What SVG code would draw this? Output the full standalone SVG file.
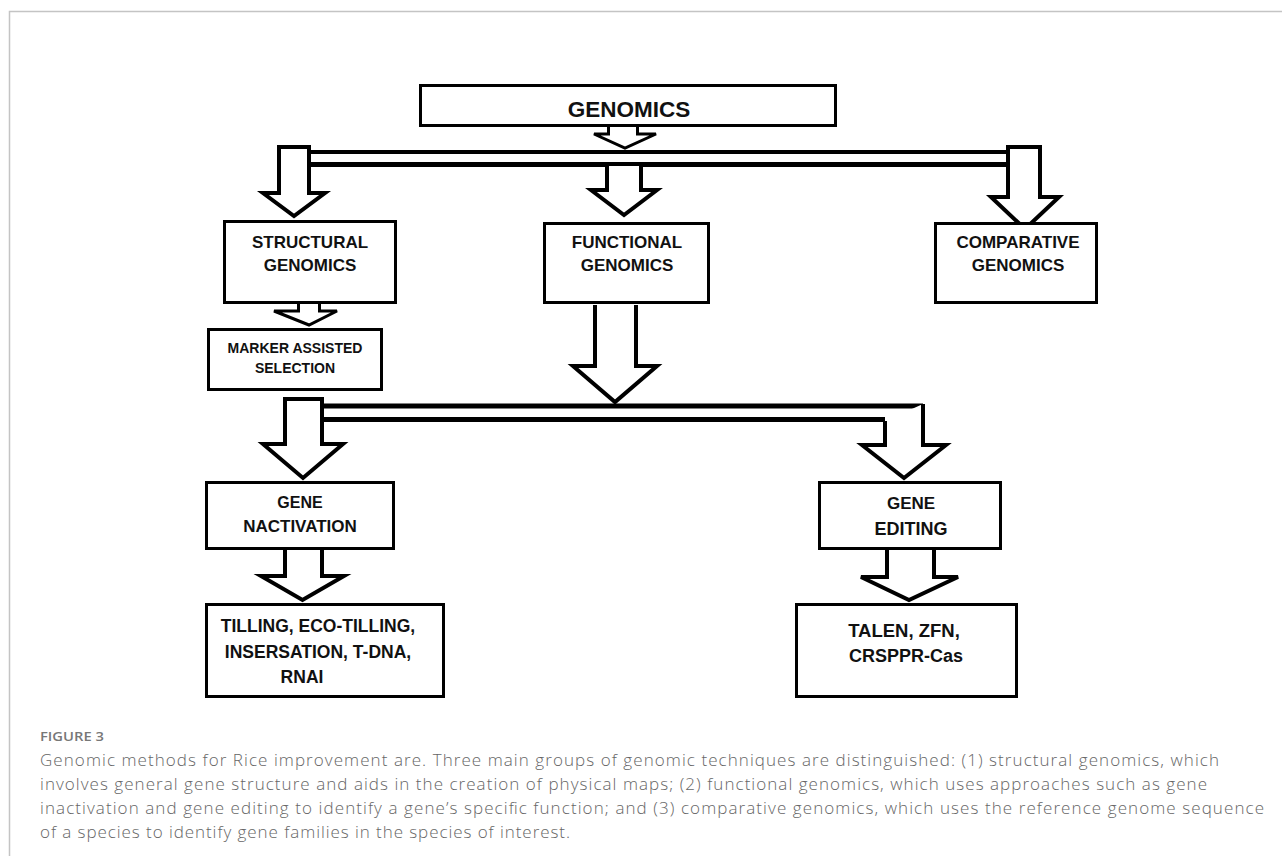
<svg xmlns="http://www.w3.org/2000/svg" width="1282" height="856" viewBox="0 0 1282 856">
<style>
.bx{fill:#fff;stroke:#000;stroke-width:3}
.ar{fill:#fff;stroke:#000;stroke-width:4;stroke-linejoin:miter}
.ar3{fill:#fff;stroke:#000;stroke-width:3;stroke-linejoin:miter}
.bar{stroke:#000;fill:none}
.t{font-family:"Liberation Sans",Arial,sans-serif;font-weight:bold;fill:#111;text-anchor:middle}
.cap{font-family:"Open Sans","Liberation Sans",sans-serif;font-weight:300;fill:#666;font-size:17px}
.fig{font-family:"Open Sans","Liberation Sans",sans-serif;font-weight:600;fill:#777;font-size:13px}
</style>
<rect width="1282" height="856" fill="#fff"/>
<path d="M9.5,856 V11.5 H1282" fill="none" stroke="#c4c4c4" stroke-width="1.5"/>

<g id="connectors">
  <path class="ar3" d="M608.5,127 V134 H594 L625,148 L656,134 H637.5 V127"/>
  <line class="bar" x1="309" y1="152" x2="1009" y2="152" stroke-width="4"/>
  <line class="bar" x1="309" y1="164.5" x2="1009" y2="164.5" stroke-width="5"/>
  <path class="ar" d="M279,147 H309 V193 H325 L294,216 L263,193 H279 Z"/>
  <path class="ar" d="M607,166 V190 H591 L624,215 L657,190 H641 V166"/>
  <path class="ar" d="M1008,147 H1040 V197 H1059 L1025,229 L991,197 H1008 Z"/>
  <path class="ar3" d="M298.5,304 V311 H274 L309,325 L337,311 H319.5 V304"/>
  <path class="ar" d="M595,305 V366 H573 L615,402 L657,366 H636 V305"/>
  <line class="bar" x1="322" y1="406" x2="923" y2="406" stroke-width="5"/>
  <line class="bar" x1="322" y1="419.5" x2="885" y2="419.5" stroke-width="5"/>
  <path class="ar" d="M285,399 H322 V444 H343 L303,478 L263,444 H285 Z"/>
  <path class="ar" d="M885,421 V445 H862 L904,478 L946,445 H923 V404"/>
  <path class="ar" d="M285,550 V576 H261 L302.5,600 L344,576 H322 V550"/>
  <path class="ar" d="M887,550 V577 H861 L909,600 L958,577 H934 V550"/>
</g>

<g id="genomics">
  <rect class="bx" x="420.5" y="85.5" width="415" height="40"/>
  <text class="t" x="629" y="117" font-size="22.5">GENOMICS</text>
</g>
<g id="structural">
  <rect class="bx" x="224.5" y="221.5" width="171" height="81"/>
  <text class="t" x="310" y="248" font-size="17">STRUCTURAL</text>
  <text class="t" x="310" y="271" font-size="17">GENOMICS</text>
</g>
<g id="functional">
  <rect class="bx" x="544.5" y="223.5" width="164" height="79"/>
  <text class="t" x="627" y="248" font-size="17">FUNCTIONAL</text>
  <text class="t" x="627" y="271" font-size="17">GENOMICS</text>
</g>
<g id="comparative">
  <rect class="bx" x="935.5" y="223.5" width="161" height="79"/>
  <text class="t" x="1018" y="248" font-size="17">COMPARATIVE</text>
  <text class="t" x="1018" y="271" font-size="17">GENOMICS</text>
</g>
<g id="marker">
  <rect class="bx" x="208.5" y="329.5" width="173" height="60"/>
  <text class="t" x="295" y="353" font-size="14">MARKER ASSISTED</text>
  <text class="t" x="295" y="373" font-size="14">SELECTION</text>
</g>
<g id="inactivation">
  <rect class="bx" x="206.5" y="482.5" width="187" height="66"/>
  <text class="t" x="300" y="508" font-size="16">GENE</text>
  <text class="t" x="300" y="532" font-size="17">NACTIVATION</text>
</g>
<g id="editing">
  <rect class="bx" x="819.5" y="482.5" width="181" height="66"/>
  <text class="t" x="911" y="509" font-size="17">GENE</text>
  <text class="t" x="911" y="535" font-size="18">EDITING</text>
</g>
<g id="inactivation-methods">
  <rect class="bx" x="206.5" y="604.5" width="237" height="92"/>
  <text class="t" x="318" y="632" font-size="17.5">TILLING, ECO-TILLING,</text>
  <text class="t" x="318" y="658" font-size="17.5">INSERSATION, T-DNA,</text>
  <text class="t" x="302" y="683" font-size="17.5">RNAI</text>
</g>
<g id="editing-methods">
  <rect class="bx" x="796.5" y="604.5" width="220" height="92"/>
  <text class="t" x="904" y="637" font-size="18.5">TALEN, ZFN,</text>
  <text class="t" x="906" y="662" font-size="18">CRSPPR-Cas</text>
</g>

<g id="caption">
  <text class="fig" x="40" y="741" textLength="64" lengthAdjust="spacingAndGlyphs">FIGURE 3</text>
  <text class="cap" x="40" y="766" textLength="1179" lengthAdjust="spacing">Genomic methods for Rice improvement are. Three main groups of genomic techniques are distinguished: (1) structural genomics, which</text>
  <text class="cap" x="40" y="790" textLength="1167" lengthAdjust="spacing">involves general gene structure and aids in the creation of physical maps; (2) functional genomics, which uses approaches such as gene</text>
  <text class="cap" x="40" y="814" textLength="1224" lengthAdjust="spacing">inactivation and gene editing to identify a gene’s specific function; and (3) comparative genomics, which uses the reference genome sequence</text>
  <text class="cap" x="40" y="838" textLength="530" lengthAdjust="spacing">of a species to identify gene families in the species of interest.</text>
</g>
</svg>
